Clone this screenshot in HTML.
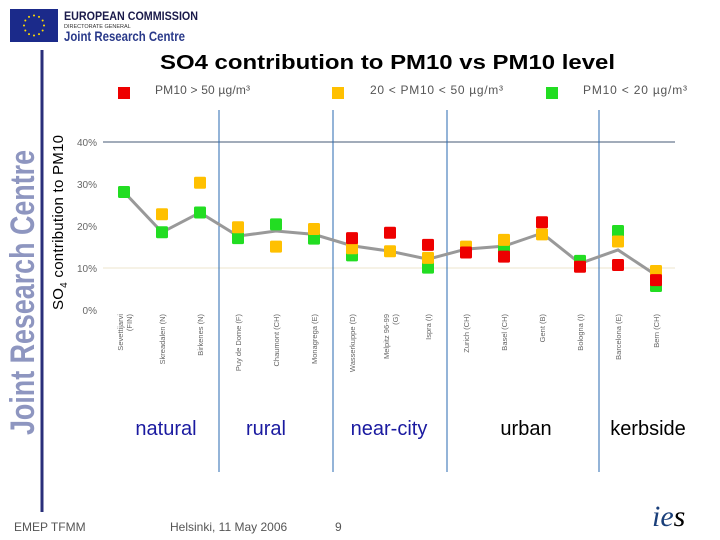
<!DOCTYPE html>
<html><head><meta charset="utf-8"><style>
body{margin:0;background:#fff;}
svg{display:block;font-family:"Liberation Sans",sans-serif;}
</style></head><body>
<svg id="c" width="720" height="540" viewBox="0 0 720 540">
<rect x="10" y="9" width="48" height="33" fill="#1b2a8a"/>
<g id="stars" fill="#ffdd00"></g>
<text x="64" y="20" font-size="12" font-weight="bold" fill="#1a1a4a" textLength="134" lengthAdjust="spacingAndGlyphs">EUROPEAN COMMISSION</text>
<text x="64" y="28" font-size="5.5" fill="#333">DIRECTORATE GENERAL</text>
<text x="64" y="41" font-size="14" font-weight="bold" fill="#2a3a8a" textLength="121" lengthAdjust="spacingAndGlyphs">Joint Research Centre</text>
<line x1="42" y1="50" x2="42" y2="512" stroke="#2a2f7a" stroke-width="3"/>
<text x="34" y="435" font-size="34" font-weight="bold" fill="#8e96c0" transform="rotate(-90 34 435)" textLength="285" lengthAdjust="spacingAndGlyphs">Joint Research Centre</text>
<text x="160" y="69" font-size="20" font-weight="bold" fill="#000" textLength="455" lengthAdjust="spacingAndGlyphs">SO4 contribution to PM10 vs PM10 level</text>
<text x="63" y="310" font-size="15" fill="#000" transform="rotate(-90 63 310)" textLength="175">SO<tspan font-size="10" dy="4">4</tspan><tspan dy="-4"> contribution to PM10</tspan></text>
<g id="legend"></g>
<g id="grid"></g>
<g id="plot"></g>
<text x="166" y="435" text-anchor="middle" font-size="20" fill="#1a1aa0">natural</text>
<text x="266" y="435" text-anchor="middle" font-size="20" fill="#1a1aa0">rural</text>
<text x="389" y="435" text-anchor="middle" font-size="20" fill="#1a1aa0">near-city</text>
<text x="526" y="435" text-anchor="middle" font-size="20" fill="#000">urban</text>
<text x="648" y="435" text-anchor="middle" font-size="20" fill="#000">kerbside</text>
<text x="14" y="531" font-size="12" fill="#555">EMEP TFMM</text>
<text x="170" y="531" font-size="12" fill="#555">Helsinki, 11 May 2006</text>
<text x="335" y="531" font-size="12" fill="#555">9</text>
<text x="652" y="526" font-size="30" font-style="italic" font-family="Liberation Serif,serif" fill="#1a3f7a">ie<tspan fill="#000">s</tspan></text>
</svg>
<script>
const sites=["Sevettijarvi (FIN)","Skreadalen (N)","Birkenes (N)","Puy de Dome (F)","Chaumont (CH)","Monagrega (E)","Wasserkuppe (D)","Melpitz 96-99 (G)","Ispra (I)","Zurich (CH)","Basel (CH)","Gent (B)","Bologna (I)","Barcelona (E)","Bern (CH)"];
const redVals=[null,null,null,null,null,null,17.1,18.4,15.5,13.7,12.7,20.9,10.3,10.7,7.1];
const yellowVals=[null,22.8,30.3,19.7,15.1,19.3,14.7,14.0,12.4,15.1,16.7,18.0,null,16.3,9.3];
const greenVals=[28.1,18.5,23.2,17.1,20.4,17.0,13.0,null,10.1,null,15.1,null,11.7,18.8,5.7];
const meanVals=[28.1,18.5,23.2,17.6,18.8,18.0,15.3,14.0,12.1,14.5,15.2,18.3,11.1,14.3,8.3];
const yTicks=[0,10,20,30,40];
const groupBounds=[2.5,5.5,8.5,12.5];
const NS='http://www.w3.org/2000/svg';
const X0=124,DX=38.0,Y0=310,KY=4.2;
const xs=i=>X0+i*DX, ys=v=>Y0-v*KY;
function mk(p,t,a){const e=document.createElementNS(NS,t);for(const k in a)e.setAttribute(k,a[k]);p.appendChild(e);return e;}
const stars=document.getElementById('stars');
for(let k=0;k<12;k++){const a=k*Math.PI/6;const s=mk(stars,'circle',{cx:34+10*Math.cos(a),cy:25.5+10*Math.sin(a),r:1});

}
const lg=document.getElementById('legend');
[["#e00",124,155,"PM10 > 50 µg/m³",95],["#ffc000",338,370,"20 < PM10 < 50 µg/m³",133],["#22dd22",552,583,"PM10 < 20 µg/m³",104]].forEach(d=>{
const r=mk(lg,'rect',{x:d[1]-6,y:87,width:12,height:12,fill:d[0]});


const t=mk(lg,'text',{x:d[2],y:94,'font-size':12,fill:'#555',textLength:d[4]});t.textContent=d[3];

});
const g=document.getElementById('grid');
yTicks.forEach(v=>{const t=mk(g,'text',{x:97,y:ys(v)+4,'text-anchor':'end','font-size':10,fill:'#666'});t.textContent=v+'%';

});
const gl=mk(g,'line',{x1:103,x2:675,y1:ys(40),y2:ys(40),stroke:'#6a7a90','stroke-width':1.2});


const gl2=mk(g,'line',{x1:103,x2:675,y1:ys(10),y2:ys(10),stroke:'#eee4cc','stroke-width':1});


groupBounds.forEach(b=>{const l=mk(g,'line',{x1:X0+b*DX,x2:X0+b*DX,y1:110,y2:472,stroke:'#2a6ab0','stroke-width':1});

});
sites.forEach((s,i)=>{const x=xs(i);const parts=s.length>16?[s.replace(/ \(.*$/,''),s.match(/\(.*$/)[0]]:[s];
const t=mk(g,'text',{x:0,y:0,'text-anchor':'end','font-size':7.5,fill:'#666',transform:`translate(${x+3-(parts.length-1)*4},314) rotate(-90)`});
parts.forEach((p,j)=>{const ts=mk(t,'tspan',{x:0,dy:j?9:0});ts.textContent=p;});

});
const pl=document.getElementById('plot');
const line=mk(pl,'polyline',{points:meanVals.map((v,i)=>xs(i)+','+ys(v)).join(' '),fill:'none',stroke:'#999','stroke-width':3});


[[greenVals,'#22dd22','green'],[yellowVals,'#ffc000','yellow'],[redVals,'#e00','red']].forEach(([arr,c,n])=>{
arr.forEach((v,i)=>{if(v==null)return;const r=mk(pl,'rect',{x:xs(i)-6,y:ys(v)-6,width:12,height:12,rx:1.5,fill:c});

});});
</script>
</body></html>
